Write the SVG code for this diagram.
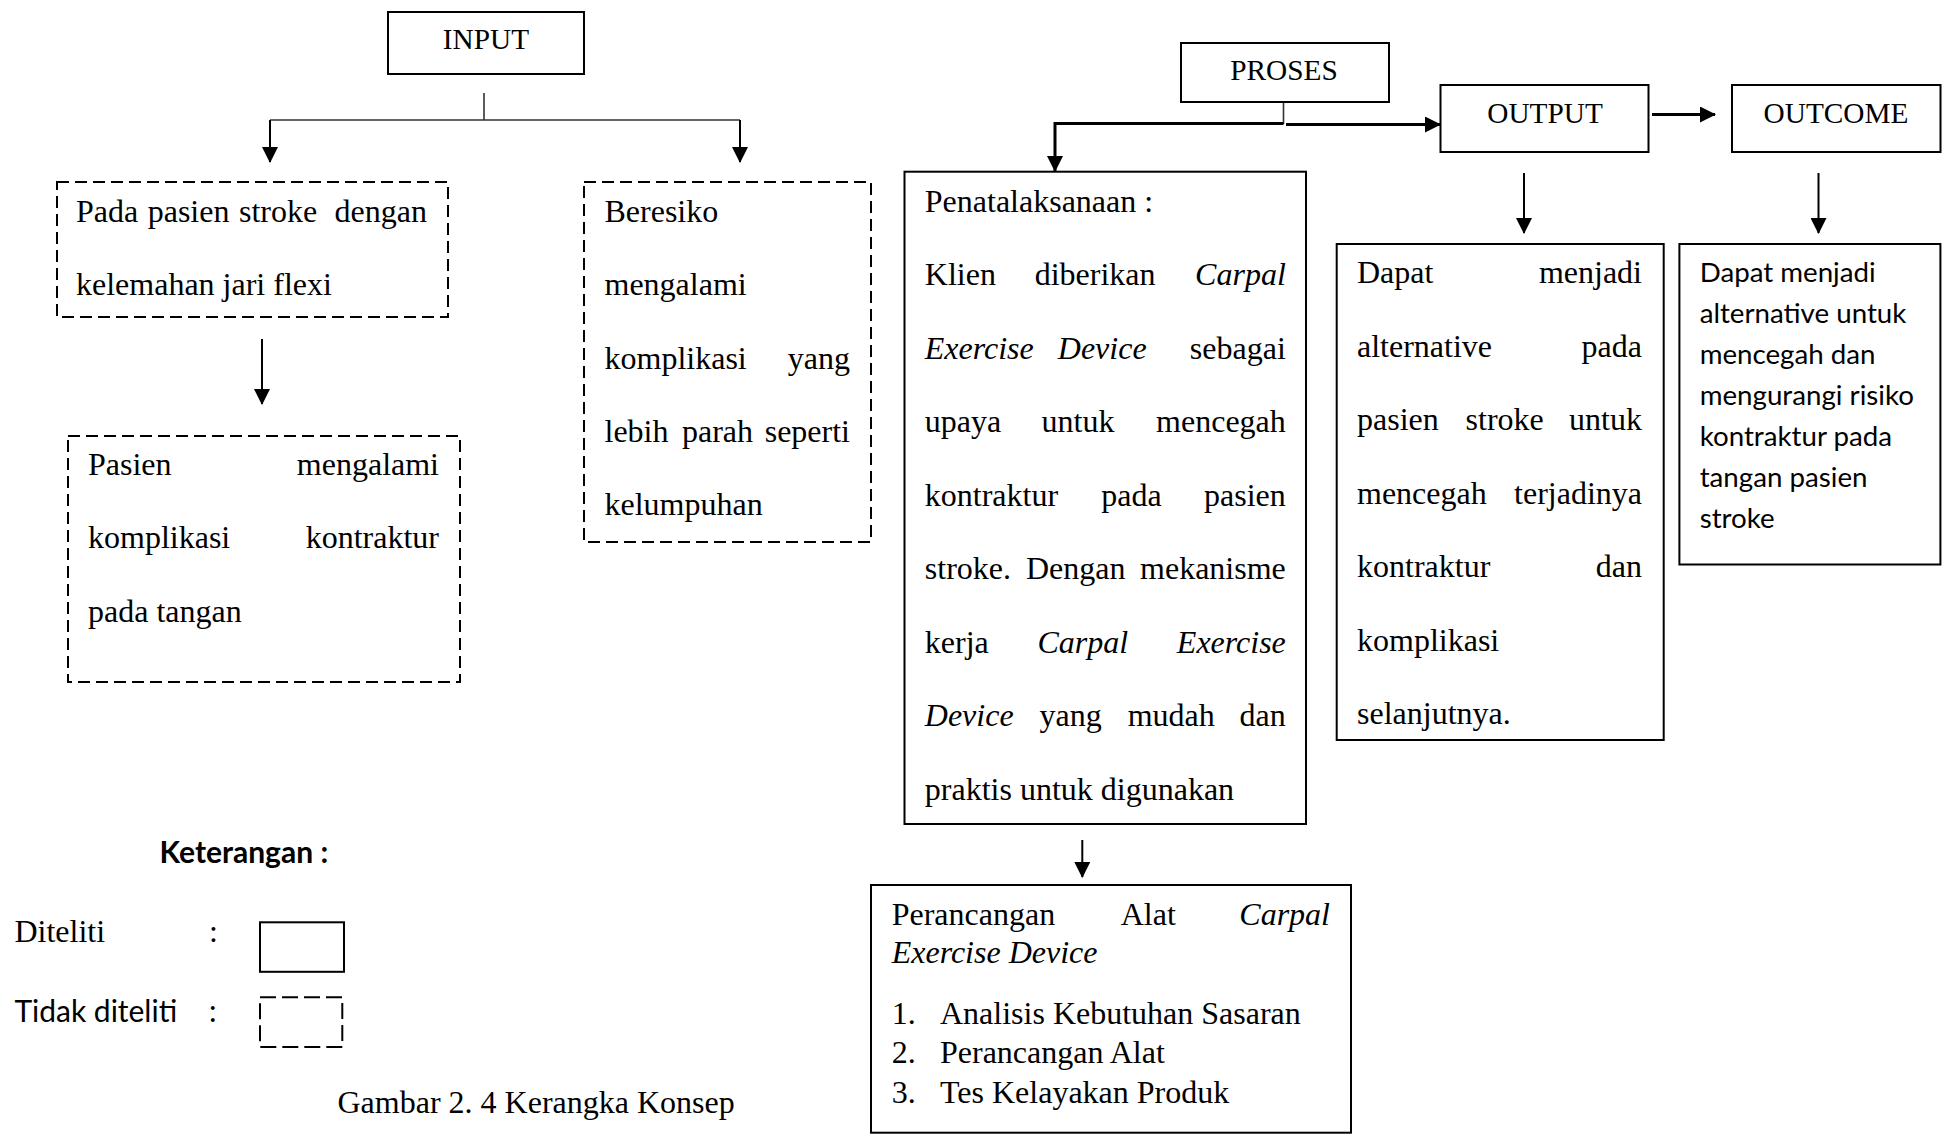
<svg xmlns="http://www.w3.org/2000/svg" width="1944" height="1136" viewBox="0 0 1944 1136">
<style>
.bg{fill:#fff}
.box{fill:none;stroke:#000;stroke-width:2}
.dash{fill:none;stroke:#000;stroke-width:2;stroke-dasharray:12 6}
.dash2{fill:none;stroke:#000;stroke-width:2;stroke-dasharray:16 6}
.t{font-family:"Liberation Serif","Times New Roman",serif;font-size:32px;fill:#000}
.lbl{font-family:"Liberation Serif","Times New Roman",serif;font-size:29.3px;fill:#000;text-anchor:middle}
.i{font-style:italic}
.s{font-family:Lato,"Liberation Sans",sans-serif;font-size:27.7px;fill:#000}
.sb{font-family:Lato,"Liberation Sans",sans-serif;font-size:30px;font-weight:bold;fill:#000}
.s32{font-family:Lato,"Liberation Sans",sans-serif;font-size:30px;fill:#000}
.conn{stroke:#000;stroke-width:2;fill:none}
.thin{stroke:#333;stroke-width:1.6;fill:none}
.thick{stroke:#000;stroke-width:3;fill:none}
</style>
<defs>
<marker id="ah" markerUnits="userSpaceOnUse" viewBox="0 0 16 16" markerWidth="16" markerHeight="16" refX="15" refY="8" orient="auto">
<path d="M0,0 L16,8 L0,16 z" fill="#000"/>
</marker>
</defs>
<rect class="bg" x="0" y="0" width="1944" height="1136"/>

<g id="connectors">
<path class="thin" d="M484,93 V120"/>
<path class="thin" d="M270,120 H740"/>
<path class="conn" d="M270,120 V162" marker-end="url(#ah)"/>
<path class="conn" d="M740,120 V162" marker-end="url(#ah)"/>
<path class="conn" d="M262,339 V404" marker-end="url(#ah)"/>
<path class="thin" d="M1283.5,101.7 V124"/>
<path class="thick" d="M1283.5,123.5 H1055 V171" marker-end="url(#ah)"/>
<path class="thick" d="M1286,124.5 H1440" marker-end="url(#ah)"/>
<path class="thick" d="M1652,114.5 H1715" marker-end="url(#ah)"/>
<path class="conn" d="M1524,173 V233" marker-end="url(#ah)"/>
<path class="conn" d="M1818.5,173 V233" marker-end="url(#ah)"/>
<path class="conn" d="M1082.3,840 V877" marker-end="url(#ah)"/>
</g>

<g id="input">
<rect class="box" x="388" y="12" width="196" height="62"/>
<text class="lbl" x="486" y="49">INPUT</text>
</g>

<g id="proses">
<rect class="box" x="1181" y="43" width="208" height="59"/>
<text class="lbl" x="1284" y="80">PROSES</text>
</g>

<g id="output">
<rect class="box" x="1440.5" y="85" width="208" height="67"/>
<text class="lbl" x="1545" y="122.7">OUTPUT</text>
</g>

<g id="outcome">
<rect class="box" x="1732" y="85" width="208.5" height="67"/>
<text class="lbl" x="1836" y="122.7">OUTCOME</text>
</g>

<g id="kelemahan">
<rect class="dash" x="57" y="182" width="391" height="135"/>
<text class="t" y="222"><tspan x="76">Pada</tspan><tspan x="147.7">pasien</tspan><tspan x="239">stroke</tspan><tspan x="427" text-anchor="end">dengan</tspan></text>
<text class="t" x="76" y="295">kelemahan jari flexi</text>
</g>

<g id="kontraktur">
<rect class="dash" x="68" y="436" width="392" height="246"/>
<text class="t" y="475"><tspan x="88">Pasien</tspan><tspan x="439" text-anchor="end">mengalami</tspan></text>
<text class="t" y="548"><tspan x="88">komplikasi</tspan><tspan x="439" text-anchor="end">kontraktur</tspan></text>
<text class="t" x="88" y="621.7">pada tangan</text>
</g>

<g id="beresiko">
<rect class="dash" x="584" y="182" width="287" height="360"/>
<text class="t" x="604.5" y="222">Beresiko</text>
<text class="t" x="604.5" y="295">mengalami</text>
<text class="t" y="368.5"><tspan x="604.5">komplikasi</tspan><tspan x="850" text-anchor="end">yang</tspan></text>
<text class="t" y="442"><tspan x="604.5">lebih</tspan><tspan x="682">parah</tspan><tspan x="850" text-anchor="end">seperti</tspan></text>
<text class="t" x="604.5" y="515">kelumpuhan</text>
</g>

<g id="penatalaksanaan">
<rect class="box" x="904.5" y="171.7" width="401.5" height="652.3"/>
<text class="t" x="924.8" y="211.7">Penatalaksanaan :</text>
<text class="t" y="285"><tspan x="924.8">Klien</tspan><tspan x="1034.7">diberikan</tspan><tspan class="i" x="1285.8" text-anchor="end">Carpal</tspan></text>
<text class="t" y="358.5"><tspan class="i" x="924.8">Exercise</tspan><tspan class="i" x="1057.8">Device</tspan><tspan x="1285.8" text-anchor="end">sebagai</tspan></text>
<text class="t" y="432"><tspan x="924.8">upaya</tspan><tspan x="1041.5">untuk</tspan><tspan x="1285.8" text-anchor="end">mencegah</tspan></text>
<text class="t" y="505.5"><tspan x="924.8">kontraktur</tspan><tspan x="1101.2">pada</tspan><tspan x="1285.8" text-anchor="end">pasien</tspan></text>
<text class="t" y="579"><tspan x="924.8">stroke.</tspan><tspan x="1025.9">Dengan</tspan><tspan x="1285.8" text-anchor="end">mekanisme</tspan></text>
<text class="t" y="652.5"><tspan x="924.8">kerja</tspan><tspan class="i" x="1037.4">Carpal</tspan><tspan class="i" x="1285.8" text-anchor="end">Exercise</tspan></text>
<text class="t" y="726"><tspan class="i" x="924.8">Device</tspan><tspan x="1039.5">yang</tspan><tspan x="1127.7">mudah</tspan><tspan x="1285.8" text-anchor="end">dan</tspan></text>
<text class="t" x="924.8" y="799.5">praktis untuk digunakan</text>
</g>

<g id="dapat-output">
<rect class="box" x="1336.7" y="244" width="327" height="496"/>
<text class="t" y="283.3"><tspan x="1357">Dapat</tspan><tspan x="1642" text-anchor="end">menjadi</tspan></text>
<text class="t" y="356.8"><tspan x="1357">alternative</tspan><tspan x="1642" text-anchor="end">pada</tspan></text>
<text class="t" y="430.3"><tspan x="1357">pasien</tspan><tspan x="1465.6">stroke</tspan><tspan x="1642" text-anchor="end">untuk</tspan></text>
<text class="t" y="503.8"><tspan x="1357">mencegah</tspan><tspan x="1642" text-anchor="end">terjadinya</tspan></text>
<text class="t" y="577.3"><tspan x="1357">kontraktur</tspan><tspan x="1642" text-anchor="end">dan</tspan></text>
<text class="t" x="1357" y="650.8">komplikasi</text>
<text class="t" x="1357" y="724.3">selanjutnya.</text>
</g>

<g id="dapat-outcome">
<rect class="box" x="1679.4" y="244" width="261" height="320.5"/>
<text class="s" x="1699.7" y="281.7">Dapat menjadi</text>
<text class="s" x="1699.7" y="322.7">alternative untuk</text>
<text class="s" x="1699.7" y="363.7">mencegah dan</text>
<text class="s" x="1699.7" y="404.7">mengurangi risiko</text>
<text class="s" x="1699.7" y="445.7">kontraktur pada</text>
<text class="s" x="1699.7" y="486.7">tangan pasien</text>
<text class="s" x="1699.7" y="527.7">stroke</text>
</g>

<g id="perancangan">
<rect class="box" x="871" y="885" width="480" height="247.7"/>
<text class="t" y="925"><tspan x="891.7">Perancangan</tspan><tspan x="1120.7">Alat</tspan><tspan class="i" x="1330" text-anchor="end">Carpal</tspan></text>
<text class="t i" x="891.7" y="963.3">Exercise Device</text>
<text class="t" y="1024"><tspan x="891.7">1.</tspan><tspan x="940">Analisis Kebutuhan Sasaran</tspan></text>
<text class="t" y="1063.3"><tspan x="891.7">2.</tspan><tspan x="940">Perancangan Alat</tspan></text>
<text class="t" y="1103.3"><tspan x="891.7">3.</tspan><tspan x="940">Tes Kelayakan Produk</tspan></text>
</g>

<g id="legend">
<text class="sb" x="159.6" y="863.3">Keterangan :</text>
<text class="t" x="14.4" y="941.7">Diteliti</text>
<text class="t" x="209" y="941.7">:</text>
<rect class="box" x="260" y="922.3" width="84" height="49.5"/>
<text class="s32" x="14.4" y="1021.7">Tidak diteliti</text>
<text class="s32" x="209" y="1021.7">:</text>
<rect class="dash2" x="260" y="997.3" width="82.3" height="49.7"/>
</g>

<g id="caption">
<text class="t" x="337.5" y="1113.3">Gambar 2. 4 Kerangka Konsep</text>
</g>
</svg>
